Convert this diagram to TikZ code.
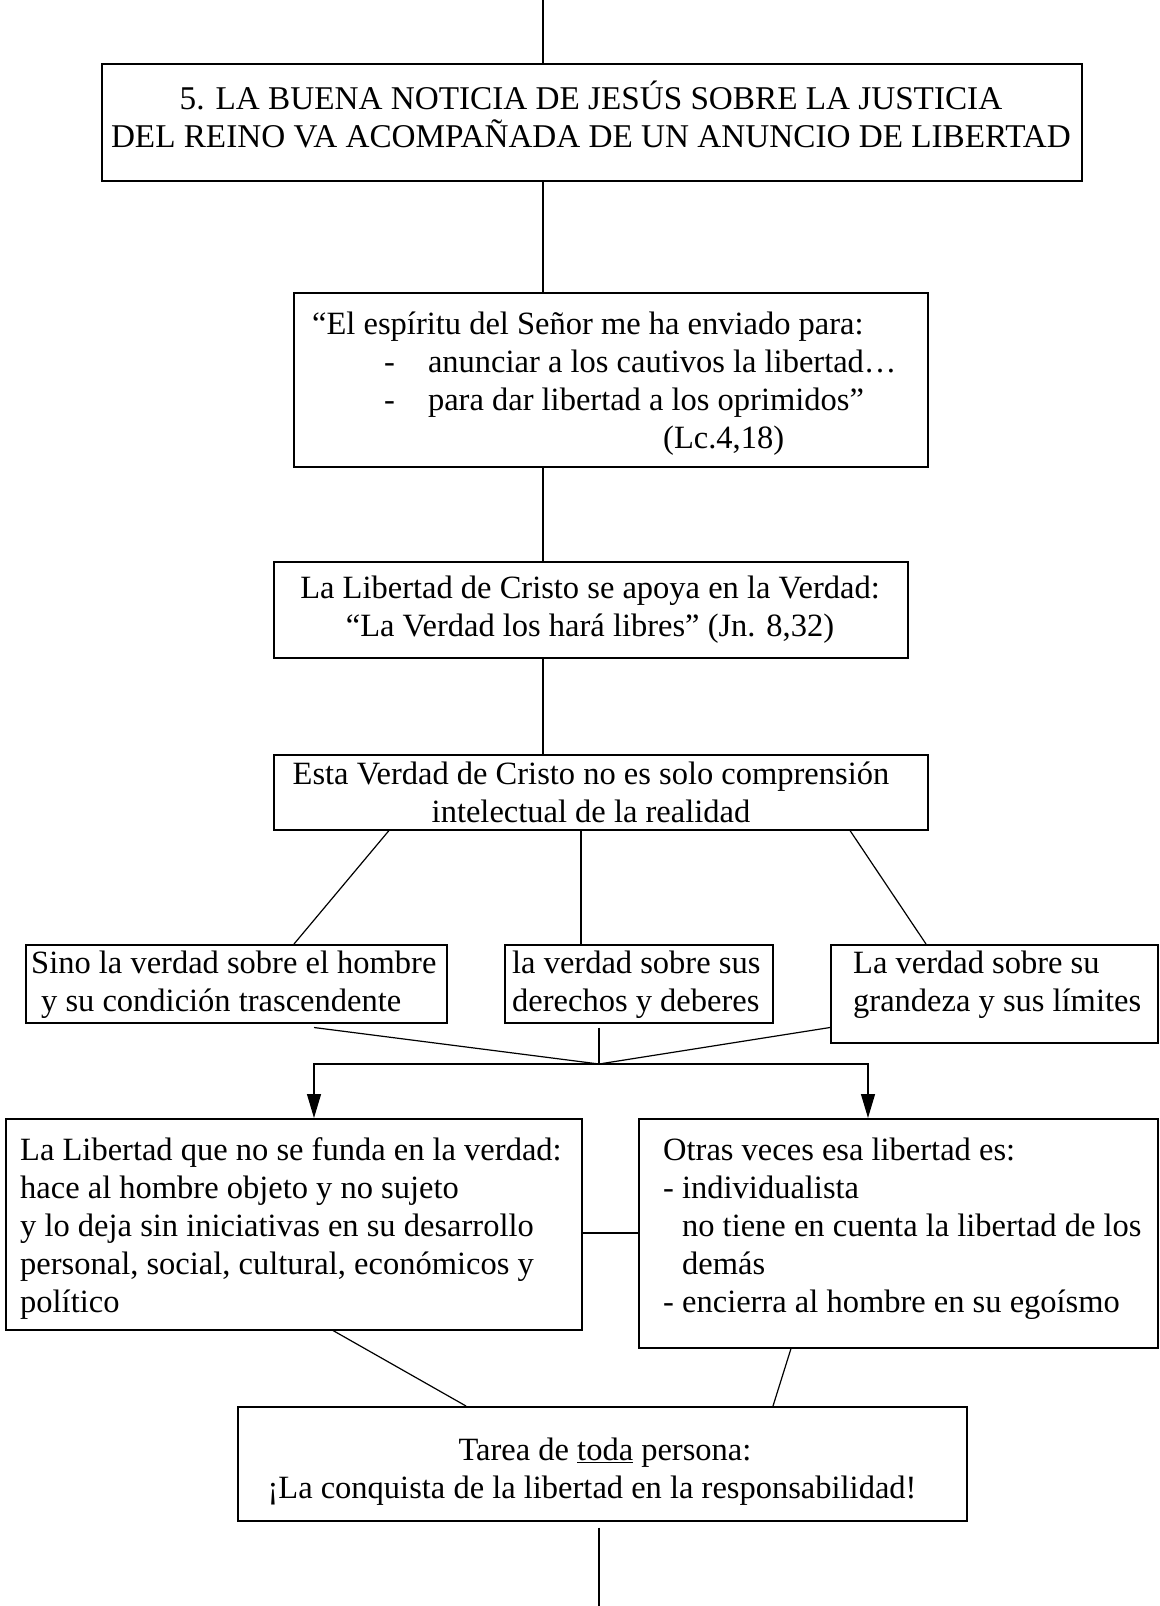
\documentclass[tikz,border=0pt]{standalone}
\usepackage{fontspec}
\setmainfont{Liberation Serif}
\usetikzlibrary{arrows.meta,calc}
\newcommand\mybox[5]{\node[box, minimum width=#4pt, minimum height=#5pt] (#1) at (#2,#3) {};}
\begin{document}
\begin{tikzpicture}[x=1pt,y=-1pt,
  box/.style={draw, line width=1.5pt, rectangle, inner sep=0pt, anchor=north west},
  txt/.style={inner sep=0pt, font=\fontsize{32.5}{38}\selectfont},
  conn/.style={line width=1.2pt},
  arr/.style={line width=1.2pt, -{Triangle[width=14pt,length=24pt]}}]
\useasboundingbox (0,0) rectangle (1159,1606);
% boxes
\mybox{b1}{101}{63}{980}{117}
\mybox{b2}{293}{292}{634}{174}
\mybox{b3}{273}{561}{634}{96}
\mybox{b4}{273}{754}{654}{75}
\mybox{b5a}{25}{944}{421}{78}
\mybox{b5b}{504}{944}{268}{78}
\mybox{b5c}{830}{944}{327}{98}
\mybox{b6a}{5}{1118}{576}{211}
\mybox{b6b}{638}{1118}{519}{229}
\mybox{b7}{237}{1406}{729}{114}
% texts
\node[txt, align=center, font=\fontsize{33.2}{38}\selectfont] (t1) at (591,114) {5. LA BUENA NOTICIA DE JESÚS SOBRE LA JUSTICIA\\DEL REINO VA ACOMPAÑADA DE UN ANUNCIO DE LIBERTAD};
\node[txt, align=left, anchor=west] (t2) at (312,384) {“El espíritu del Señor me ha enviado para:\\
\hspace*{72pt}-\hspace*{33pt}anunciar a los cautivos la libertad…\\
\hspace*{72pt}-\hspace*{33pt}para dar libertad a los oprimidos”\\
\hspace*{351pt}(Lc.4,18)};
\node[txt, align=center] (t3) at (590,610) {La Libertad de Cristo se apoya en la Verdad:\\“La Verdad los hará libres” (Jn. 8,32)};
\node[txt, align=center] (t4) at (591,792) {Esta Verdad de Cristo no es solo comprensión\\intelectual de la realidad};
\node[txt, align=left, anchor=west] (t5a) at (31,985) {Sino la verdad sobre el hombre\\\hspace*{10pt}y su condición trascendente};
\node[txt, align=left, anchor=west] (t5b) at (512,985) {la verdad sobre sus\\derechos y deberes};
\node[txt, align=left, anchor=west] (t5c) at (853,985) {La verdad sobre su\\grandeza y sus límites};
\node[txt, align=left, anchor=west] (t6a) at (20,1229) {La Libertad que no se funda en la verdad:\\hace al hombre objeto y no sujeto\\y lo deja sin iniciativas en su desarrollo\\personal, social, cultural, económicos y\\político};
\node[txt, align=left, anchor=west] (t6b) at (663,1229) {Otras veces esa libertad es:\\- individualista\\\hphantom{-}\ no tiene en cuenta la libertad de los\\\hphantom{-}\ demás\\- encierra al hombre en su egoísmo};
\node[txt, align=center] (t7) at (592,1472) {\hspace*{26pt}Tarea de \underline{toda} persona:\\¡La conquista de la libertad en la responsabilidad!};
% connectors
\coordinate (top) at (543,0);
\coordinate (bot) at (599,1606);
\coordinate (m) at (599,1064);
\draw[conn] (top) -- (top |- b1.north);
\draw[conn] ($(b1.south west)+(442,0)$) -- ($(b2.north west)+(250,0)$);
\draw[conn] ($(b2.south west)+(250,0)$) -- ($(b3.north west)+(270,0)$);
\draw[conn] ($(b3.south west)+(270,0)$) -- ($(b4.north west)+(270,0)$);
\draw[conn] ($(b4.south west)+(116,0)$) -- ($(b5a.north west)+(269,0)$);
\draw[conn] ($(b4.south west)+(308,0)$) -- ($(b5b.north west)+(77,0)$);
\draw[conn] ($(b4.south west)+(577,0)$) -- ($(b5c.north west)+(96,0)$);
\draw[conn] ($(b5a.south west)+(289,4)$) -- (m);
\draw[conn] ($(b5b.south west)+(95,4)$) -- (m);
\draw[conn] ($(b5c.south west)+(0,-16)$) -- (m);
\draw[arr] (m) -| ($(b6a.north west)+(309,0)$);
\draw[arr] (m) -| ($(b6b.north west)+(230,0)$);
\draw[conn] ($(b6a.north east)+(0,115)$) -- ($(b6b.north west)+(0,115)$);
\draw[conn] ($(b6a.south west)+(328,0)$) -- ($(b7.north west)+(229,0)$);
\draw[conn] ($(b6b.south west)+(153,0)$) -- ($(b7.north west)+(536,0)$);
\draw[conn] ($(b7.south west)+(362,6)$) -- (bot);
\end{tikzpicture}
\end{document}
